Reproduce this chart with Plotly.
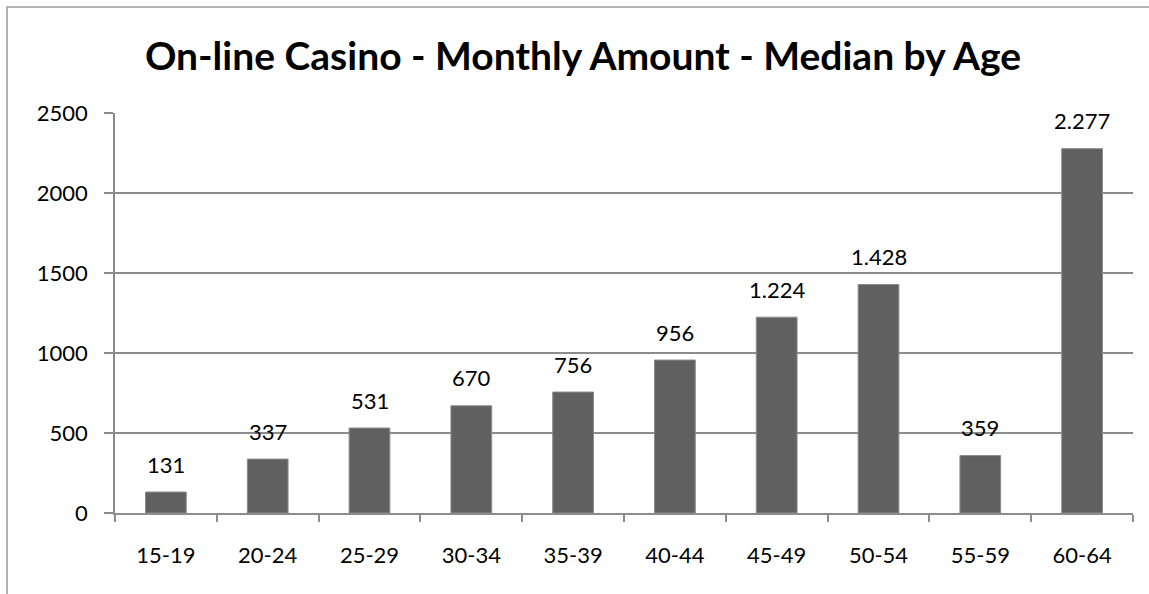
import plotly.graph_objects as go

categories = ["15-19", "20-24", "25-29", "30-34", "35-39", "40-44", "45-49", "50-54", "55-59", "60-64"]
values = [131, 337, 531, 670, 756, 956, 1224, 1428, 359, 2277]
y_ticks = [0, 500, 1000, 1500, 2000, 2500]
title_text = "On-line Casino - Monthly Amount - Median by Age"

def fmt(v):
    return f"{v:,}".replace(",", ".")

W, H = 1149, 594
L, R, T, B = 115, 1133, 113, 513

fig = go.Figure()
fig.add_trace(go.Bar(
    x=categories, y=values, width=0.4,
    marker=dict(color="#606060", line=dict(color="#8a8a8a", width=1)),
    hoverinfo="skip",
))

for c, v in zip(categories, values):
    fig.add_annotation(x=c, y=v, text=fmt(v), showarrow=False,
                       yanchor="middle", yshift=28,
                       font=dict(family="Lato", size=22, color="#000000"))

pw = R - L
ph = B - T
fig.add_shape(type="rect", xref="paper", yref="paper",
              x0=(7 - L) / pw, x1=(W + 20 - L) / pw,
              y0=(B - (H + 20)) / ph, y1=(B - 7) / ph,
              line=dict(color="#9a9a9a", width=1.5), fillcolor="rgba(0,0,0,0)", layer="below")

fig.update_layout(
    width=W, height=H, autosize=False,
    margin=dict(l=L, r=W - R, t=T, b=H - B, pad=0),
    paper_bgcolor="white", plot_bgcolor="white",
    showlegend=False,
    title=dict(text="<b>" + title_text + "</b>", xref="container", yref="container",
               x=583 / W, xanchor="center", y=1 - 56 / H, yanchor="middle",
               font=dict(family="Lato", size=39, color="#000000")),
    font=dict(family="Lato", size=22, color="#000000"),
    xaxis=dict(type="category", showline=True, linecolor="#8c8c8c", linewidth=1.5,
               ticks="outside", tickson="boundaries", ticklen=7, tickcolor="#8c8c8c", tickwidth=1.5,
               showgrid=False, ticklabelstandoff=22,
               tickfont=dict(family="Lato", size=22, color="#000000")),
    yaxis=dict(range=[0, 2500], tickvals=y_ticks, showline=True, linecolor="#8c8c8c", linewidth=1.5,
               ticks="outside", ticklen=9, tickcolor="#8c8c8c", tickwidth=1.5,
               showgrid=True, gridcolor="#8c8c8c", gridwidth=1.5, zeroline=False,
               ticklabelstandoff=12,
               tickfont=dict(family="Lato", size=22, color="#000000")),
)

fig.write_html("out.html", config={"displayModeBar": False},
               post_script="document.body.style.margin='0';document.body.style.overflow='hidden';")
